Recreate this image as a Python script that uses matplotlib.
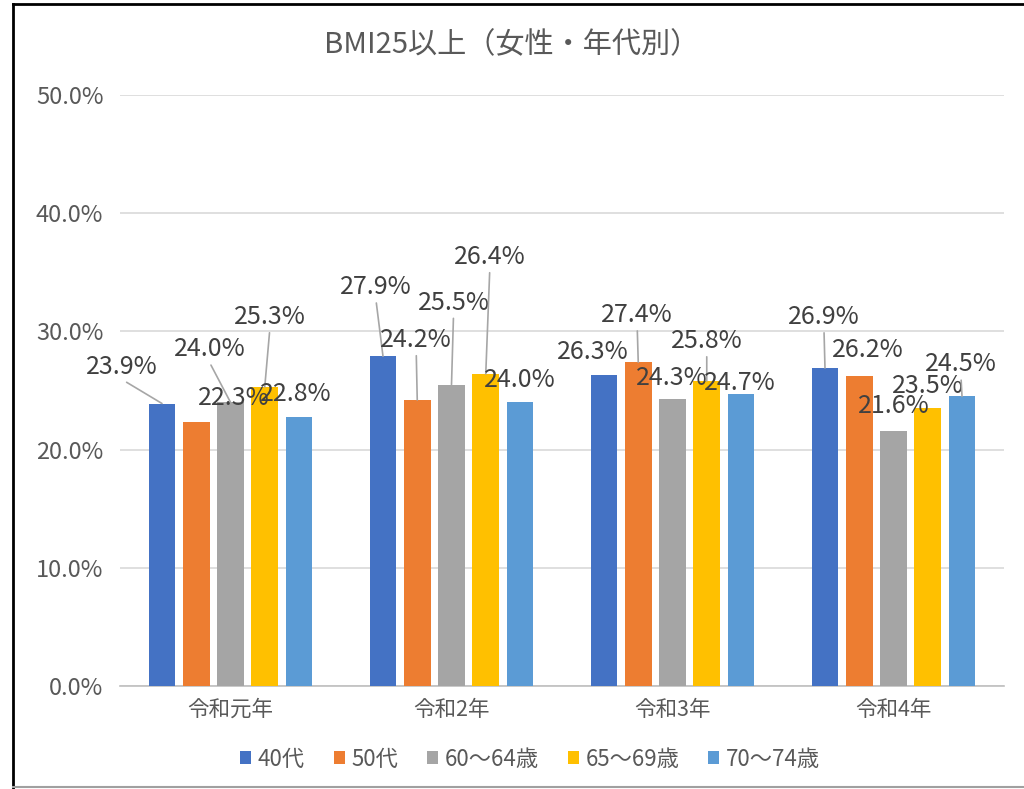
import matplotlib
matplotlib.use("Agg")
import matplotlib.pyplot as plt
import numpy as np
from matplotlib.lines import Line2D
from matplotlib.ticker import PercentFormatter

plt.rcParams["font.family"] = ["Noto Sans CJK JP", "DejaVu Sans"]

TITLE = "BMI25以上（女性・年代別）"
categories = ["令和元年", "令和2年", "令和3年", "令和4年"]
series = ["40代", "50代", "60～64歳", "65～69歳", "70～74歳"]
colors = ["#4472C4", "#ED7D31", "#A5A5A5", "#FFC000", "#5B9BD5"]

# values in percent, one list per age group (R1..R4)
v40 = [23.9, 27.9, 26.3, 26.9]
v50 = [22.3, 24.2, 27.4, 26.2]
v60 = [24.0, 25.5, 24.3, 21.6]
v65 = [25.3, 26.4, 25.8, 23.5]
v70 = [22.8, 24.0, 24.7, 24.5]
values = [v40, v50, v60, v65, v70]

# label offsets from bar top (pixels: dx, dy up) and whether a leader line is drawn
label_pos = [
    [(-40, 37, True), (-7, 69, True), (-11, 23, False), (-1, 51, True)],
    [(38, 24, False), (-1, 60, True), (-1, 47, True), (9, 26, False)],
    [(-21, 53, True), (2, 82, True), (-1, 21, False), (0, 25, False)],
    [(5, 70, True), (4, 117, True), (0, 40, True), (0, 22, False)],
    [(-3, 23, False), (0, 22, False), (-1, 11, False), (-1, 32, True)],
]

text_color = "#595959"

fig = plt.figure(figsize=(10.24, 7.89), dpi=100)
ax = fig.add_axes([120 / 1024, 1 - 686 / 789, 884 / 1024, 591 / 789])

x = np.arange(len(categories))
width = 0.122
step = 0.155
for i, (name, vals, col) in enumerate(zip(series, values, colors)):
    pos = x + (i - 2) * step
    bars = ax.bar(pos, vals, width, color=col, label=name, zorder=3)
    for j, b in enumerate(bars):
        dx, dy, leader = label_pos[i][j]
        top = b.get_height()
        cx = b.get_x() + b.get_width() / 2
        arrow = None
        if leader:
            arrow = dict(arrowstyle="-", color="#A6A6A6", lw=1.2,
                         relpos=(0.5, 0.0), shrinkA=0, shrinkB=0)
        ax.annotate(f"{top:.1f}%", xy=(cx, top), xytext=(dx, dy),
                    textcoords="offset pixels", ha="center", va="center",
                    fontsize=18, color="#404040", arrowprops=arrow, zorder=5)

ax.set_xlim(-0.5, len(categories) - 0.5)
ax.set_ylim(0, 50)
ax.set_yticks(np.arange(0, 51, 10))
ax.yaxis.set_major_formatter(PercentFormatter(decimals=1))
ax.set_xticks(x)
ax.set_xticklabels(categories)
ax.grid(axis="y", color="#D9D9D9", lw=1.2, zorder=0)
ax.tick_params(axis="y", length=0, pad=12, labelsize=17, labelcolor=text_color)
ax.tick_params(axis="x", length=0, pad=9, labelsize=15.5, labelcolor=text_color)
for s in ["top", "right", "left"]:
    ax.spines[s].set_visible(False)
ax.spines["bottom"].set_color("#BFBFBF")
ax.spines["bottom"].set_linewidth(1.2)

fig.text(512 / 1024, 1 - 45 / 789, TITLE, ha="center", va="center",
         fontsize=21, color=text_color)

fig.legend(loc="center", bbox_to_anchor=(530 / 1024, 1 - 759 / 789), ncol=5,
           frameon=False, fontsize=16, handlelength=0.5, handleheight=0.5,
           handletextpad=0.3, columnspacing=1.3, labelcolor=text_color)

# chart frame
fig.add_artist(Line2D([13 / 1024, 13 / 1024], [0, 1 - 4 / 789], color="black", lw=2))
fig.add_artist(Line2D([13 / 1024, 1], [1 - 4 / 789, 1 - 4 / 789], color="black", lw=2))
fig.add_artist(Line2D([13 / 1024, 1], [1 - 787 / 789, 1 - 787 / 789], color="#A0A0A0", lw=1.5))

fig.savefig("out.png", dpi=100)
